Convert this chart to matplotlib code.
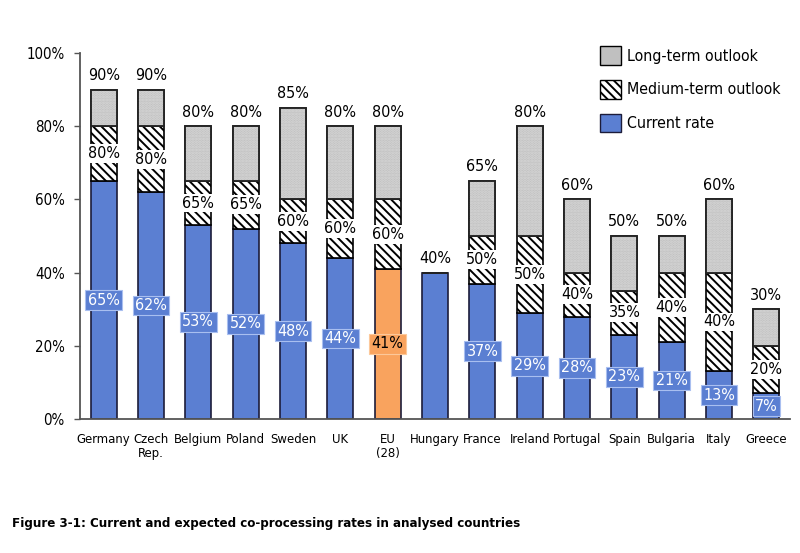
import matplotlib
matplotlib.use("Agg")
import matplotlib.pyplot as plt
from matplotlib.patches import Patch

countries = ["Germany", "Czech\nRep.", "Belgium", "Poland", "Sweden", "UK", "EU\n(28)",
             "Hungary", "France", "Ireland", "Portugal", "Spain", "Bulgaria", "Italy", "Greece"]
current = [65, 62, 53, 52, 48, 44, 41, 40, 37, 29, 28, 23, 21, 13, 7]
medium = [80, 80, 65, 65, 60, 60, 60, 40, 50, 50, 40, 35, 40, 40, 20]
longterm = [90, 90, 80, 80, 85, 80, 80, 40, 65, 80, 60, 50, 50, 60, 30]
current_labels = ["65%", "62%", "53%", "52%", "48%", "44%", "41%", None, "37%",
                  "29%", "28%", "23%", "21%", "13%", "7%"]
medium_labels = ["80%", "80%", "65%", "65%", "60%", "60%", "60%", None, "50%",
                 "50%", "40%", "35%", "40%", "40%", "20%"]
long_labels = ["90%", "90%", "80%", "80%", "85%", "80%", "80%", "40%", "65%",
               "80%", "60%", "50%", "50%", "60%", "30%"]
highlight = "EU\n(28)"

plt.rcParams['font.family'] = ['DejaVu Sans']
plt.rcParams['font.stretch'] = 'condensed'
plt.rcParams['hatch.linewidth'] = 1.4

BLUE = "#5b7fd2"
ORANGE = "#f9a35e"
GRAY = "#c0c0c0"
EDGE = "#1c1c3a"

fig = plt.figure(figsize=(8, 5.53), dpi=100)
ax = fig.add_axes([0.1, 0.2423, 0.8875, 0.662])

x = list(range(len(countries)))
w = 0.55
cur_colors = [ORANGE if c == highlight else BLUE for c in countries]
med_h = [m - c for m, c in zip(medium, current)]
long_h = [l - m for l, m in zip(longterm, medium)]

ax.bar(x, current, width=w, color=cur_colors, edgecolor=EDGE, linewidth=1.2, zorder=2)
ax.bar(x, med_h, width=w, bottom=current, color="white", edgecolor="black",
       hatch="\\\\\\\\", linewidth=1.2, zorder=2)
ax.bar(x, long_h, width=w, bottom=medium, color=GRAY, edgecolor="#333333",
       linewidth=1.2, zorder=2)
ax.bar(x, long_h, width=w, bottom=medium, color="none", edgecolor="#d8d8d8",
       hatch="......", linewidth=0, zorder=2.1)
ax.bar(x, long_h, width=w, bottom=medium, color="none", edgecolor="#222222",
       linewidth=1.3, zorder=2.2)

fs = 11.5
for i in x:
    if current_labels[i]:
        is_hl = countries[i] == highlight
        ax.text(i, current[i] / 2, current_labels[i], ha="center", va="center",
                fontsize=fs, color="black" if is_hl else "white", zorder=4,
                bbox=dict(boxstyle="square,pad=0.15",
                          fc=cur_colors[i], ec="#a9bff0" if not is_hl else "#fcc89a", lw=0.8))
    if medium_labels[i]:
        ax.text(i, (current[i] + medium[i]) / 2, medium_labels[i], ha="center", va="center",
                fontsize=fs, color="black", zorder=4,
                bbox=dict(boxstyle="square,pad=0.12", fc="white", ec="none"))
    ax.text(i, longterm[i] + 1.8, long_labels[i], ha="center", va="bottom",
            fontsize=fs, color="black", zorder=4)

ax.set_xlim(-0.5, 14.5)
ax.set_ylim(0, 100)
ax.set_yticks([0, 20, 40, 60, 80, 100])
ax.set_yticklabels(["0%", "20%", "40%", "60%", "80%", "100%"], fontsize=10.8)
ax.set_xticks(x)
ax.set_xticklabels(countries, fontsize=9.4, linespacing=1.15)
ax.tick_params(axis="x", length=0, pad=10)
ax.tick_params(axis="y", length=4, width=1, color="#555555", pad=7)
for s in ["top", "right"]:
    ax.spines[s].set_visible(False)
for s in ["left", "bottom"]:
    ax.spines[s].set_color("#555555")
    ax.spines[s].set_linewidth(1.3)

handles = [Patch(facecolor=GRAY, edgecolor="black", label="Long-term outlook"),
           Patch(facecolor="white", edgecolor="black", hatch="\\\\\\\\", label="Medium-term outlook"),
           Patch(facecolor=BLUE, edgecolor=EDGE, label="Current rate")]
ax.legend(handles=handles, loc="upper right", bbox_to_anchor=(1.0, 1.045), frameon=False,
          fontsize=11.4, handlelength=1.3, handleheight=1.45, handletextpad=0.4,
          labelspacing=0.95, borderaxespad=0.2)

fig.text(0.015, 0.054, "Figure 3-1: Current and expected co-processing rates in analysed countries",
         fontsize=9.5, fontweight="bold", ha="left", va="center")

fig.savefig("out.png", dpi=100)
